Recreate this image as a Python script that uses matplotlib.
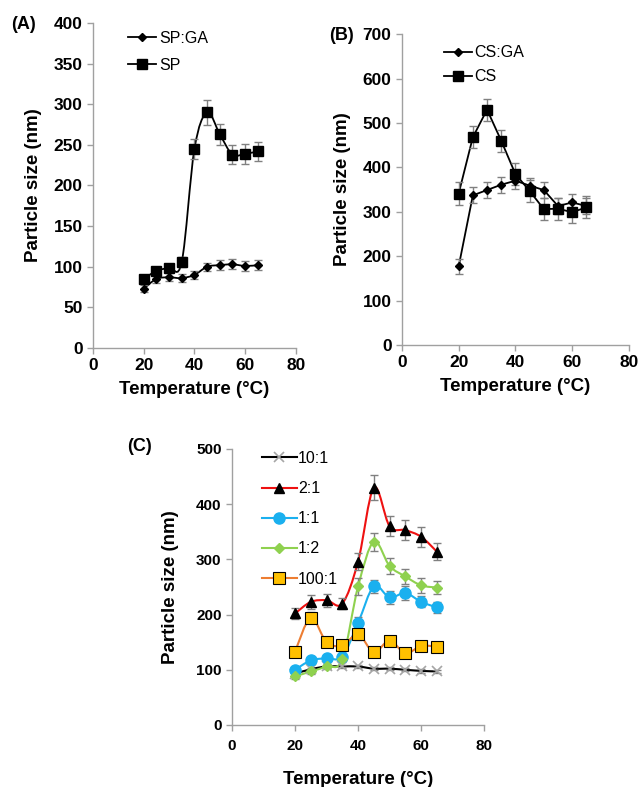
import matplotlib
matplotlib.use("Agg")
import matplotlib.pyplot as plt
from matplotlib.path import Path
from matplotlib.patches import PathPatch
import numpy as np

plt.rcParams['font.family'] = ['Liberation Sans', 'DejaVu Sans']

temps = [20, 25, 30, 35, 40, 45, 50, 55, 60, 65]

# Panel A
sp_ga = [73, 85, 87, 86, 90, 100, 102, 103, 101, 102]
sp_ga_err = [4, 5, 5, 5, 5, 5, 6, 6, 6, 6]
sp = [85, 95, 99, 106, 245, 290, 263, 238, 239, 242]
sp_err = [5, 5, 5, 6, 12, 15, 13, 12, 12, 12]

# Panel B
cs_ga = [177, 337, 349, 361, 370, 359, 349, 313, 321, 313]
cs_ga_err = [17, 18, 18, 18, 18, 18, 18, 18, 18, 18]
cs = [341, 468, 530, 460, 385, 347, 306, 307, 299, 310]
cs_err = [25, 25, 25, 25, 25, 25, 25, 25, 25, 25]

# Panel C
r10_1 = [93, 101, 106, 106, 106, 102, 102, 100, 98, 97]
r10_1_err = [3, 3, 3, 3, 3, 3, 3, 3, 3, 3]
r2_1 = [202, 223, 226, 220, 296, 430, 360, 353, 341, 314]
r2_1_err = [10, 12, 12, 10, 15, 22, 18, 18, 18, 16]
r1_1 = [100, 117, 121, 124, 185, 251, 231, 239, 223, 213]
r1_1_err = [5, 6, 6, 6, 10, 12, 12, 12, 10, 10]
r1_2 = [88, 97, 106, 119, 251, 332, 288, 269, 253, 249]
r1_2_err = [4, 4, 5, 5, 15, 16, 15, 13, 13, 12]
r100_1 = [133, 194, 150, 144, 164, 132, 153, 130, 143, 142]
r100_1_err = [5, 10, 6, 6, 10, 6, 6, 6, 6, 6]

x_ticks = [0, 20, 40, 60, 80]

ERR_C = '#808080'
SPINE_C = '#a0a0a0'


def smooth_patch(ax, x, y, color, lw):
    x = np.asarray(x, float)
    y = np.asarray(y, float)
    n = len(x)
    verts = [(x[0], y[0])]
    codes = [Path.MOVETO]
    for i in range(n - 1):
        i0 = max(i - 1, 0)
        i3 = min(i + 2, n - 1)
        c1 = (x[i] + (x[i + 1] - x[i0]) / 6.0, y[i] + (y[i + 1] - y[i0]) / 6.0)
        c2 = (x[i + 1] - (x[i3] - x[i]) / 6.0, y[i + 1] - (y[i3] - y[i]) / 6.0)
        verts += [c1, c2, (x[i + 1], y[i + 1])]
        codes += [Path.CURVE4, Path.CURVE4, Path.CURVE4]
    ax.add_patch(PathPatch(Path(verts, codes), fill=False, edgecolor=color, lw=lw, zorder=2))


def style_axes(ax, ymax, ystep, tick_fs=11, xpad=4):
    ax.set_xlim(0, 80)
    ax.set_ylim(0, ymax)
    ax.set_xticks(x_ticks)
    ax.set_yticks(np.arange(0, ymax + 1, ystep))
    for s in ['top', 'right']:
        ax.spines[s].set_visible(False)
    for s in ['left', 'bottom']:
        ax.spines[s].set_color(SPINE_C)
        ax.spines[s].set_linewidth(1.0)
    ax.tick_params(axis='both', colors=SPINE_C, length=4, width=1, labelcolor='black',
                   labelsize=tick_fs)
    ax.tick_params(axis='x', pad=xpad)
    for lab in ax.get_xticklabels() + ax.get_yticklabels():
        lab.set_fontweight('bold')


fig = plt.figure(figsize=(6.4, 7.87), dpi=100)

# ---- Panel A
axA = fig.add_axes([0.1453, 0.5578, 0.317, 0.413])
smooth_patch(axA, temps, sp_ga, 'black', 1.3)
smooth_patch(axA, temps, sp, 'black', 1.3)
axA.errorbar(temps, sp_ga, yerr=sp_ga_err, fmt='D', color='black', ms=4.5,
             ecolor=ERR_C, elinewidth=1, capsize=3, zorder=3)
axA.errorbar(temps, sp, yerr=sp_err, fmt='s', color='black', ms=6.5,
             ecolor=ERR_C, elinewidth=1, capsize=3, zorder=3)
hA1, = axA.plot([], [], '-D', color='black', ms=4.5, lw=1.3, label='SP:GA')
hA2, = axA.plot([], [], '-s', color='black', ms=6.5, lw=1.3, label='SP')
style_axes(axA, 400, 50, tick_fs=12.5, xpad=3)
axA.set_xlabel('Temperature (°C)', fontsize=13.5, fontweight='bold', labelpad=6)
axA.set_ylabel('Particle size (nm)', fontsize=13.5, fontweight='bold', labelpad=8)
axA.legend(handles=[hA1, hA2], loc='upper left', bbox_to_anchor=(0.1, 1.02),
           frameon=False, fontsize=11.5, handlelength=1.8, handletextpad=0.15,
           labelspacing=0.75)
fig.text(0.018, 0.9695, '(A)', fontsize=13, fontweight='bold', va='center')

# ---- Panel B
axB = fig.add_axes([0.628, 0.5616, 0.3547, 0.395])
axB.plot(temps, cs_ga, '-', color='black', lw=1.3, zorder=2)
axB.plot(temps, cs, '-', color='black', lw=1.3, zorder=2)
axB.errorbar(temps, cs_ga, yerr=cs_ga_err, fmt='D', color='black', ms=4.5,
             ecolor=ERR_C, elinewidth=1, capsize=3, zorder=3)
axB.errorbar(temps, cs, yerr=cs_err, fmt='s', color='black', ms=6.5,
             ecolor=ERR_C, elinewidth=1, capsize=3, zorder=3)
hB1, = axB.plot([], [], '-D', color='black', ms=4.5, lw=1.3, label='CS:GA')
hB2, = axB.plot([], [], '-s', color='black', ms=6.5, lw=1.3, label='CS')
style_axes(axB, 700, 100, tick_fs=12.5, xpad=3)
axB.set_xlabel('Temperature (°C)', fontsize=13.5, fontweight='bold', labelpad=6)
axB.set_ylabel('Particle size (nm)', fontsize=13.5, fontweight='bold', labelpad=8)
axB.legend(handles=[hB1, hB2], loc='upper left', bbox_to_anchor=(0.12, 1.01),
           frameon=False, fontsize=11.5, handlelength=1.8, handletextpad=0.15,
           labelspacing=0.55)
fig.text(0.514, 0.955, '(B)', fontsize=13, fontweight='bold', va='center')

# ---- Panel C
axC = fig.add_axes([0.3625, 0.0788, 0.394, 0.3507])
series = [
    ('10:1', r10_1, r10_1_err, 'black', dict(marker='x', mfc='#a6a6a6', mec='#a6a6a6', ms=7, mew=1.2)),
    ('2:1', r2_1, r2_1_err, '#ee1111', dict(marker='^', mfc='black', mec='black', ms=7)),
    ('1:1', r1_1, r1_1_err, '#1ab0ef', dict(marker='o', mfc='#1ab0ef', mec='#1ab0ef', ms=8)),
    ('1:2', r1_2, r1_2_err, '#8fd14f', dict(marker='D', mfc='#8fd14f', mec='#8fd14f', ms=5)),
    ('100:1', r100_1, r100_1_err, '#ed7d31', dict(marker='s', mfc='#ffc000', mec='black', ms=8, mew=0.8)),
]
handles = []
for name, vals, err, col, mk in series:
    smooth_patch(axC, temps, vals, col, 1.5)
    axC.errorbar(temps, vals, yerr=err, fmt='none', ecolor=ERR_C, elinewidth=1,
                 capsize=3, zorder=3)
    axC.plot(temps, vals, linestyle='none', zorder=4, **mk)
    h, = axC.plot([], [], '-', color=col, lw=1.5, label=name, **mk)
    handles.append(h)
style_axes(axC, 500, 100, tick_fs=11, xpad=6)
axC.set_xlabel('Temperature (°C)', fontsize=13.5, fontweight='bold', labelpad=13)
axC.set_ylabel('Particle size (nm)', fontsize=13.5, fontweight='bold', labelpad=12)
axC.legend(handles=handles, loc='upper left', bbox_to_anchor=(0.06, 1.045),
           frameon=False, fontsize=11.5, handlelength=2.2, handletextpad=0.1,
           labelspacing=0.95)
fig.text(0.198, 0.433, '(C)', fontsize=13, fontweight='bold', va='center')

fig.savefig('out.png', dpi=100)
